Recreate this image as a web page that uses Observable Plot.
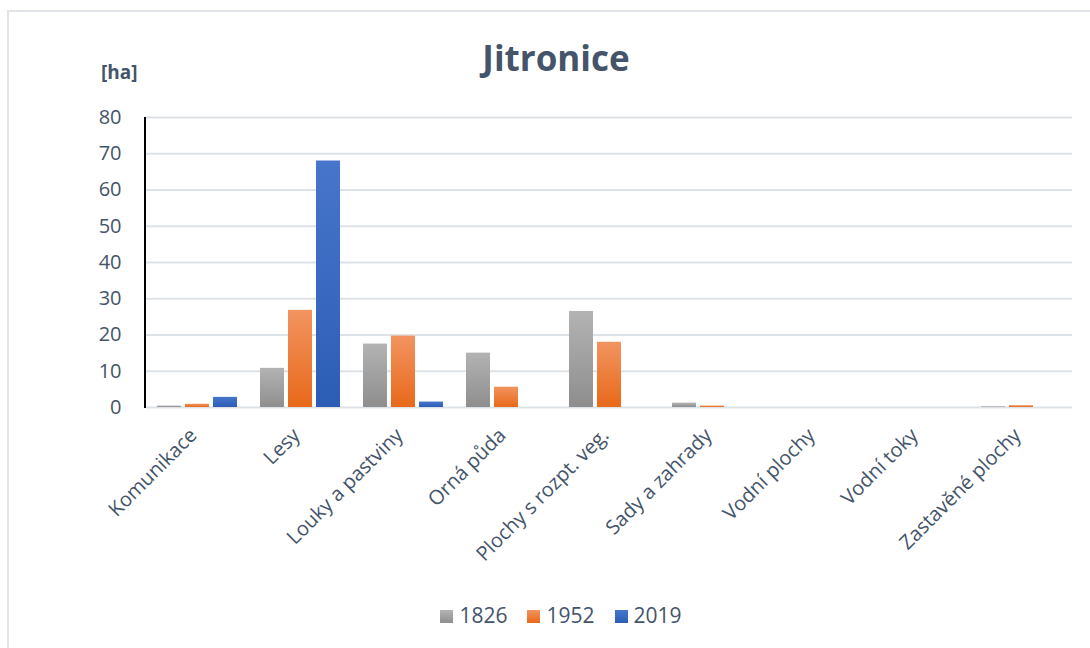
<!DOCTYPE html>
<html><head><meta charset="utf-8">
<script src="https://cdn.jsdelivr.net/npm/d3@7"></script>
<script src="https://cdn.jsdelivr.net/npm/@observablehq/plot@0.6"></script>
<style>
html,body{margin:0;padding:0;background:#fff;}
#wrap{position:relative;width:1090px;height:648px;overflow:hidden;font-family:"Open Sans",sans-serif;color:#44546a;}
#frame{position:absolute;left:7px;top:10px;width:1200px;height:800px;border-left:2px solid #e1e5ea;border-top:2px solid #e1e5ea;}
#title{position:absolute;left:11px;width:1090px;top:34px;text-align:center;font-weight:700;font-size:35px;line-height:48px;}
#unit{position:absolute;left:101px;top:59px;font-weight:700;font-size:19px;}
#legend{position:absolute;left:16px;width:1090px;top:601px;text-align:center;font-size:21px;}
#legend span.item{display:inline-block;margin:0 10px;}
#legend span.sw{display:inline-block;width:13px;height:13px;margin-right:6px;vertical-align:0px;}
#chart{position:absolute;left:0;top:0;}
</style></head>
<body><div id="wrap"><div id="frame"></div><div id="chart"></div><div id="title">Jitronice</div><div id="unit">[ha]</div><div id="legend"></div></div>
<script>
const categories = ["Komunikace","Lesy","Louky a pastviny","Orná půda","Plochy s rozpt. veg.","Sady a zahrady","Vodní plochy","Vodní toky","Zastavěné plochy"];
const years = ["1826","1952","2019"];
const values1826 = [0.4, 10.8, 17.5, 15.0, 26.5, 1.2, 0, 0, 0.2];
const values1952 = [0.9, 26.8, 19.7, 5.6, 18.0, 0.4, 0, 0, 0.5];
const values2019 = [2.8, 68.0, 1.5, 0, 0, 0, 0, 0, 0];
const yTicks = [0,10,20,30,40,50,60,70,80];
const gradients = {
  "1826": ["#b3b3b3", "#8e8e8e"],
  "1952": ["#f29460", "#e8691a"],
  "2019": ["#4775cc", "#2c5db5"]
};

const series = [values1826, values1952, values2019];
const data = [];
categories.forEach((c, i) => years.forEach((y, j) => data.push({category: c, year: y, value: series[j][i]})));

const ink = "#44546a";
const plot = Plot.plot({
  width: 1090, height: 648,
  marginLeft: 145, marginRight: 17, marginTop: 117, marginBottom: 241,
  style: {fontFamily: "Open Sans, sans-serif", fontSize: "20px", color: ink, background: "transparent", overflow: "visible"},
  fx: {domain: categories, paddingInner: 0.21, paddingOuter: 0.1, tickRotate: -45, tickSize: 0, tickPadding: 21, label: null},
  x: {domain: years, paddingInner: 0.15, paddingOuter: 0, axis: null},
  y: {domain: [0, 80], ticks: yTicks, tickSize: 0, tickPadding: 35, label: null, tickFormat: d => d},
  color: {domain: years, range: years.map(y => `url(#grad${y})`)},
  marks: [
    Plot.ruleY(yTicks, {stroke: "#dde2e7", strokeWidth: 2, insetLeft: -11, insetRight: -11}),
    Plot.barY(data, {fx: "category", x: "year", y: "value", fill: "year"})
  ]
});
const svg = plot;
const ns = "http://www.w3.org/2000/svg";
const defs = document.createElementNS(ns, "defs");
years.forEach(y => {
  const g = document.createElementNS(ns, "linearGradient");
  g.setAttribute("id", "grad" + y);
  g.setAttribute("x1", "0"); g.setAttribute("y1", "0"); g.setAttribute("x2", "0"); g.setAttribute("y2", "1");
  [[0, gradients[y][0]], [1, gradients[y][1]]].forEach(([o, c]) => {
    const s = document.createElementNS(ns, "stop");
    s.setAttribute("offset", o); s.setAttribute("stop-color", c);
    g.appendChild(s);
  });
  defs.appendChild(g);
});
svg.insertBefore(defs, svg.firstChild);
// shift rotated category labels slightly left
svg.querySelectorAll('[aria-label="fx-axis tick label"] text, g[aria-label="fx-axis"] text').forEach(t => t.setAttribute("dx", "-5"));
// y axis line using the library's y scale
const ys = plot.scale("y");
const line = document.createElementNS(ns, "line");
line.setAttribute("x1", 145); line.setAttribute("x2", 145);
line.setAttribute("y1", ys.apply(80)); line.setAttribute("y2", ys.apply(0) + 1);
line.setAttribute("stroke", "#000"); line.setAttribute("stroke-width", 2);
svg.appendChild(line);
document.getElementById("chart").appendChild(svg);

const legend = document.getElementById("legend");
years.forEach(y => {
  const item = document.createElement("span"); item.className = "item";
  const sw = document.createElement("span"); sw.className = "sw";
  sw.style.background = `linear-gradient(${gradients[y][0]}, ${gradients[y][1]})`;
  item.appendChild(sw);
  item.appendChild(document.createTextNode(y));
  legend.appendChild(item);
});
</script></body></html>
